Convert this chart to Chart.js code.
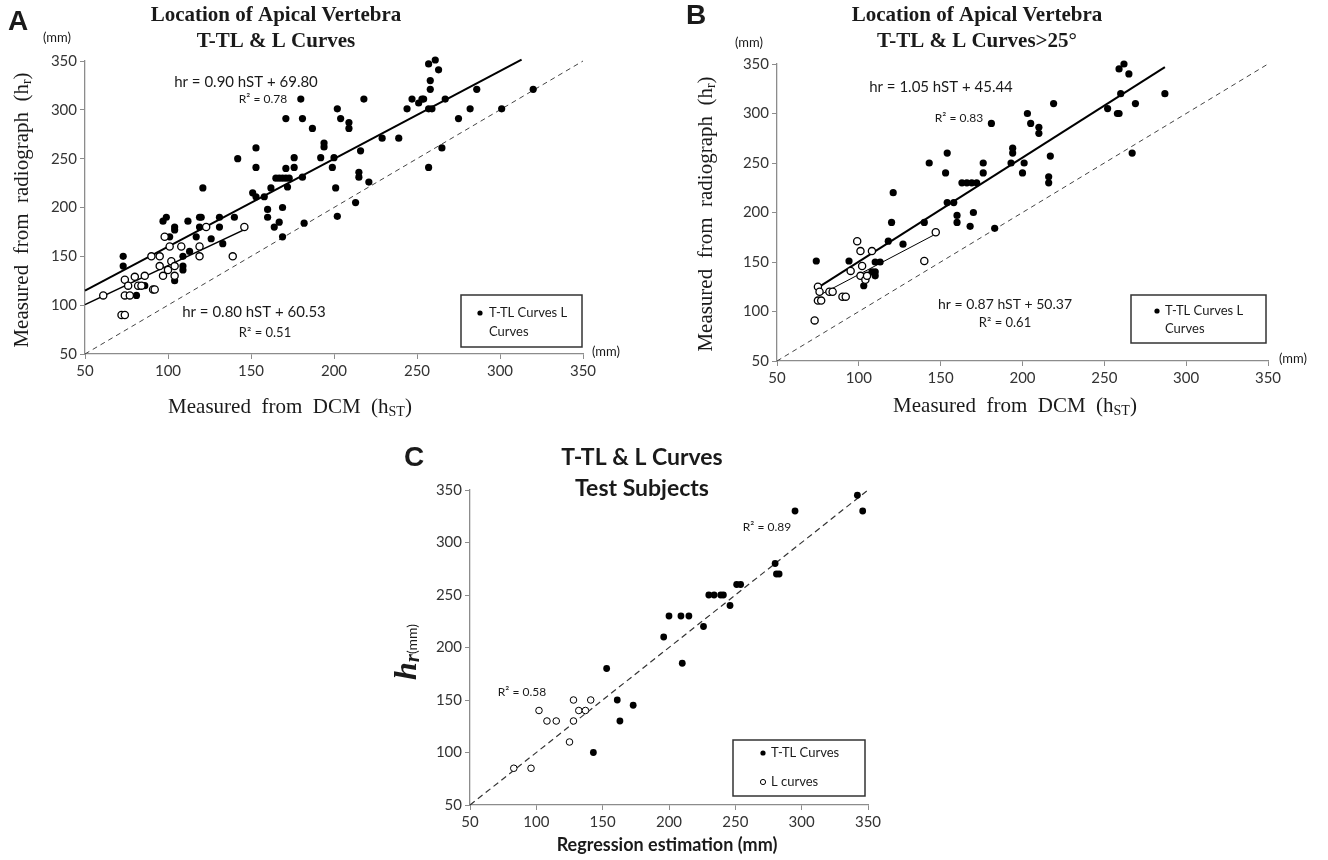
<!DOCTYPE html>
<html>
<head>
<meta charset="utf-8">
<script src="https://cdn.jsdelivr.net/npm/chart.js@4.4.1/dist/chart.umd.min.js"></script>
<style>
body { margin: 0; background: #fff; }
#wrap { position: relative; width: 1328px; height: 860px; overflow: hidden; }
canvas { position: absolute; }
</style>
</head>
<body>
<div id="wrap">
  <canvas id="chartA" width="660" height="430" style="left:0;top:0"></canvas>
  <canvas id="chartB" width="668" height="430" style="left:660px;top:0"></canvas>
  <canvas id="chartC" width="520" height="430" style="left:380px;top:430px"></canvas>
</div>
<script>
// shared axis ticks (mm)
const axisTicks = [50, 100, 150, 200, 250, 300, 350];

// Panel A - all T-TL & L curves
const aTTL = [[73,150],[73,140],[81,110],[86,120],[97,186],[99,190],[101,170],[104,180],[104,177],[104,125],
  [109,150],[109,140],[109,136],[112,186],[113,155],[117,170],[119,190],[120,190],[119,180],[121,220],
  [126,168],[131,190],[131,180],[133,163],[140,190],[142,250],[151,215],[153,261],[153,241],[153,211],
  [158,211],[160,190],[160,198],[162,220],[164,180],[167,185],[165,230],[167,230],[169,230],[171,230],
  [173,230],[169,200],[169,170],[171,240],[171,291],[172,221],[176,251],[176,241],[180,311],[181,291],
  [181,231],[182,184],[187,281],[192,251],[194,266],[194,262],[199,241],[200,251],[201,220],[202,191],
  [202,301],[204,291],[209,287],[209,281],[213,205],[215,236],[215,231],[216,258],[218,311],[221,226],
  [229,271],[239,271],[244,301],[247,311],[251,307],[253,311],[254,311],[257,347],[261,351],[263,341],
  [258,330],[258,321],[257,301],[259,301],[257,241],[265,261],[267,311],[275,291],[282,301],[286,321],
  [301,301],[320,321]];
const aL = [[61,110],[72,90],[74,90],[74,126],[74,110],[77,110],[76,120],[80,129],[82,120],[84,120],
  [86,130],[90,150],[91,116],[92,116],[95,150],[95,140],[97,130],[98,170],[101,160],[100,136],
  [102,145],[104,140],[104,130],[108,160],[119,160],[119,150],[123,180],[139,150],[146,180]];
const aFitTTL = { slope: 0.90, intercept: 69.80, from: 50, to: 313 };
const aFitL = { slope: 0.80, intercept: 60.53, from: 50, to: 146 };

// Panel B - curves > 25 deg
const bTTL = [[74,151],[94,151],[103,126],[110,150],[108,140],[110,140],[110,136],[113,150],[118,171],[120,190],
  [121,220],[127,168],[140,190],[143,250],[153,240],[154,260],[154,210],[158,210],[160,190],[160,197],
  [163,230],[166,230],[169,230],[172,230],[168,186],[170,200],[176,250],[176,240],[181,290],[183,184],
  [193,250],[194,265],[194,260],[200,240],[201,250],[203,300],[205,290],[210,286],[210,280],[217,257],
  [216,236],[216,230],[219,310],[252,305],[258,300],[259,300],[259,345],[260,320],[262,350],[265,340],
  [267,260],[269,310],[287,320]];
const bL = [[73,91],[75,125],[75,111],[77,111],[76,120],[82,120],[84,120],[90,115],[92,115],[95,141],
  [99,171],[101,161],[101,136],[102,146],[104,132],[105,136],[108,161],[140,151],[147,180]];
const bFitTTL = { slope: 1.05, intercept: 45.44, from: 75, to: 287 };
const bFitL = { slope: 0.87, intercept: 50.37, from: 76, to: 147 };

// Panel C - test subjects
const cTTL = [[143,100],[153,180],[161,150],[163,130],[173,145],[196,210],[200,230],[209,230],[210,185],[215,230],
  [226,220],[230,250],[234,250],[239,250],[241,250],[246,240],[251,260],[254,260],[280,280],[281,270],
  [283,270],[295,330],[342,345],[346,330]];
const cL = [[83,85],[96,85],[102,140],[108,130],[115,130],[125,110],[128,130],[128,150],[132,140],[137,140],[141,150]];

const ink = '#1a1a1a';
const axisGray = '#8c8c8c';
const serif = '"Liberation Serif", "DejaVu Serif", serif';
const sans = 'Lato, "Liberation Sans", sans-serif';

const pts = arr => arr.map(p => ({ x: p[0], y: p[1] }));
const fitLine = f => [{ x: f.from, y: f.slope * f.from + f.intercept }, { x: f.to, y: f.slope * f.to + f.intercept }];
const identity = [{ x: axisTicks[0], y: axisTicks[0] }, { x: axisTicks[axisTicks.length - 1], y: axisTicks[axisTicks.length - 1] }];

function filled(data, r) {
  return { data: pts(data), pointRadius: r, backgroundColor: '#000', borderColor: '#000', borderWidth: 0, pointHoverRadius: r, order: 1 };
}
function hollow(data, r, bw) {
  return { data: pts(data), pointRadius: r, backgroundColor: '#fff', borderColor: '#000', borderWidth: bw, pointHoverRadius: r, order: 1 };
}
function line(data, w, dash, color) {
  return { data: data, showLine: true, pointRadius: 0, borderColor: color, borderWidth: w, borderDash: dash, order: 2 };
}

function text(ctx, s, x, y, font, align) {
  ctx.font = font;
  ctx.textAlign = align || 'center';
  ctx.textBaseline = 'middle';
  ctx.fillText(s, x, y);
}
// text made of pieces (for subscripts)
function rich(ctx, parts, x, y) {
  let w = 0;
  parts.forEach(p => { ctx.font = p.font; w += ctx.measureText(p.t).width; });
  let cx = x - w / 2;
  ctx.textAlign = 'left';
  ctx.textBaseline = 'middle';
  parts.forEach(p => {
    ctx.font = p.font;
    ctx.fillText(p.t, cx, y + (p.dy || 0));
    cx += ctx.measureText(p.t).width;
  });
}
function richUp(ctx, parts, x, y) {
  ctx.save();
  ctx.translate(x, y);
  ctx.rotate(-Math.PI / 2);
  rich(ctx, parts, 0, 0);
  ctx.restore();
}
function box(ctx, x, y, w, h) {
  ctx.save();
  ctx.strokeStyle = '#333';
  ctx.lineWidth = 1.5;
  ctx.strokeRect(x, y, w, h);
  ctx.restore();
}
function dot(ctx, x, y, r, open) {
  ctx.beginPath();
  ctx.arc(x, y, r, 0, Math.PI * 2);
  if (open) { ctx.fillStyle = '#fff'; ctx.fill(); ctx.strokeStyle = '#000'; ctx.lineWidth = 1; ctx.stroke(); }
  else { ctx.fillStyle = '#000'; ctx.fill(); }
  ctx.fillStyle = ink;
}

function axis(fit, tickFont) {
  return {
    type: 'linear', min: 50, max: 350,
    afterBuildTicks: s => { s.ticks = axisTicks.map(v => ({ value: v })); },
    afterFit: fit,
    ticks: { font: { family: sans, size: tickFont }, color: '#333', padding: 3 },
    grid: { drawOnChartArea: false, drawTicks: true, tickLength: 5, color: axisGray, lineWidth: 1 },
    border: { color: axisGray, width: 1.3 }
  };
}

function makeChart(id, datasets, pad, yw, xh, tickFont, notes) {
  return new Chart(document.getElementById(id), {
    type: 'scatter',
    data: { datasets: datasets },
    options: {
      responsive: false, animation: false, clip: false,
      layout: { padding: pad },
      plugins: { legend: { display: false }, tooltip: { enabled: false } },
      scales: {
        x: axis(s => { s.height = xh; }, tickFont),
        y: axis(s => { s.width = yw; }, tickFont)
      }
    },
    plugins: [{ id: id + 'Notes', afterDraw: c => { c.ctx.save(); c.ctx.fillStyle = ink; notes(c.ctx); c.ctx.restore(); } }]
  });
}

// ---------- A ----------
makeChart('chartA', [
  line(identity, 1, [5, 4], '#444'),
  line(fitLine(aFitTTL), 2, [], '#000'),
  line(fitLine(aFitL), 1.6, [], '#000'),
  hollow(aL, 3.6, 1.3),
  filled(aTTL, 3.6)
], { left: 0, top: 61, right: 77, bottom: 46 }, 85, 30, 15, ctx => {
  text(ctx, 'A', 8, 22, 'bold 28px "Liberation Sans", sans-serif', 'left');
  text(ctx, 'Location of Apical Vertebra', 276, 16, 'bold 21px ' + serif);
  text(ctx, 'T-TL & L Curves', 276, 42, 'bold 21px ' + serif);
  text(ctx, '(mm)', 57, 38, '13px ' + sans);
  text(ctx, '(mm)', 606, 352, '13px ' + sans);
  richUp(ctx, [{ t: 'Measured  from  radiograph  (h', font: '21px ' + serif }, { t: 'r', font: '14px ' + serif, dy: 5 }, { t: ')', font: '21px ' + serif }], 22, 210);
  rich(ctx, [{ t: 'Measured  from  DCM  (h', font: '21px ' + serif }, { t: 'ST', font: '14px ' + serif, dy: 5 }, { t: ')', font: '21px ' + serif }], 290, 407);
  text(ctx, 'hr = 0.90 hST + 69.80', 246, 82, '15px ' + sans);
  text(ctx, 'R\u00b2 = 0.78', 263, 99, '12px ' + sans);
  text(ctx, 'hr = 0.80 hST + 60.53', 254, 312, '15px ' + sans);
  text(ctx, 'R\u00b2 = 0.51', 265, 333, '13px ' + sans);
  box(ctx, 461, 295, 121, 52);
  dot(ctx, 480, 313, 2.6, false);
  text(ctx, 'T-TL Curves L', 489, 313, '13px ' + sans, 'left');
  text(ctx, 'Curves', 489, 332, '13px ' + sans, 'left');
});

// ---------- B ----------
makeChart('chartB', [
  line(identity, 1, [5, 4], '#444'),
  line(fitLine(bFitTTL), 2, [], '#000'),
  line(fitLine(bFitL), 1, [], '#000'),
  hollow(bL, 3.6, 1.3),
  filled(bTTL, 3.6)
], { left: 0, top: 64, right: 60, bottom: 39 }, 117, 30, 15, ctx => {
  text(ctx, 'B', 26, 16, 'bold 28px "Liberation Sans", sans-serif', 'left');
  text(ctx, 'Location of Apical Vertebra', 317, 16, 'bold 21px ' + serif);
  text(ctx, 'T-TL & L Curves>25\u00b0', 317, 42, 'bold 21px ' + serif);
  text(ctx, '(mm)', 89, 43, '13px ' + sans);
  text(ctx, '(mm)', 633, 359, '13px ' + sans);
  richUp(ctx, [{ t: 'Measured  from  radiograph  (h', font: '21px ' + serif }, { t: 'r', font: '14px ' + serif, dy: 5 }, { t: ')', font: '21px ' + serif }], 46, 214);
  rich(ctx, [{ t: 'Measured  from  DCM  (h', font: '21px ' + serif }, { t: 'ST', font: '14px ' + serif, dy: 5 }, { t: ')', font: '21px ' + serif }], 355, 406);
  text(ctx, 'hr = 1.05 hST + 45.44', 281, 87, '15px ' + sans);
  text(ctx, 'R\u00b2 = 0.83', 299, 118, '12px ' + sans);
  text(ctx, 'hr = 0.87 hST + 50.37', 345, 304, '14px ' + sans);
  text(ctx, 'R\u00b2 = 0.61', 345, 323, '13px ' + sans);
  box(ctx, 471, 295, 135, 48);
  dot(ctx, 497, 311, 2.6, false);
  text(ctx, 'T-TL Curves L', 505, 311, '13px ' + sans, 'left');
  text(ctx, 'Curves', 505, 329, '13px ' + sans, 'left');
});

// ---------- C ----------
makeChart('chartC', [
  line(identity, 1.2, [6, 4], '#333'),
  hollow(cL, 3.3, 1),
  filled(cTTL, 3.4)
], { left: 0, top: 60, right: 32, bottom: 25 }, 90, 30, 15, ctx => {
  text(ctx, 'C', 24, 28, 'bold 28px "Liberation Sans", sans-serif', 'left');
  text(ctx, 'T-TL & L Curves', 262, 28, 'bold 23px ' + sans);
  text(ctx, 'Test Subjects', 262, 59, 'bold 23px ' + sans);
  richUp(ctx, [{ t: 'h', font: 'italic bold 32px ' + serif }, { t: 'r', font: 'italic bold 21px ' + serif, dy: 6 }, { t: '(mm)', font: '14px ' + sans, dy: 4 }], 28, 222);
  text(ctx, 'Regression estimation (mm)', 287, 415, 'bold 18px ' + sans);
  text(ctx, 'R\u00b2 = 0.89', 387, 97, '12px ' + sans);
  text(ctx, 'R\u00b2 = 0.58', 142, 262, '12px ' + sans);
  box(ctx, 353, 310, 132, 56);
  dot(ctx, 383, 323, 2.6, false);
  text(ctx, 'T-TL Curves', 391, 323, '13px ' + sans, 'left');
  dot(ctx, 383, 352, 2.6, true);
  text(ctx, 'L curves', 391, 352, '13px ' + sans, 'left');
});
</script>
</body>
</html>
